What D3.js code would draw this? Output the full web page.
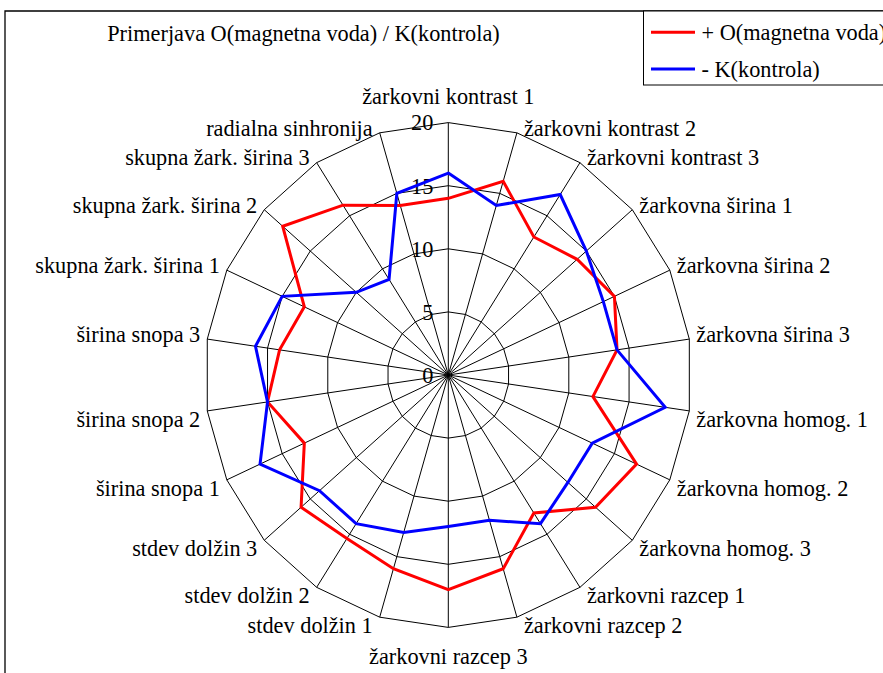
<!DOCTYPE html>
<html>
<head>
<meta charset="utf-8">
<script src="https://cdn.jsdelivr.net/npm/d3@7"></script>
<style>
html,body{margin:0;padding:0;background:#fff;}
svg{display:block;}
</style>
</head>
<body>
<svg id="chart" width="883" height="673"></svg>
<script>
const categories = [
  "žarkovni kontrast 1","žarkovni kontrast 2","žarkovni kontrast 3",
  "žarkovna širina 1","žarkovna širina 2","žarkovna širina 3",
  "žarkovna homog. 1","žarkovna homog. 2","žarkovna homog. 3",
  "žarkovni razcep 1","žarkovni razcep 2","žarkovni razcep 3",
  "stdev dolžin 1","stdev dolžin 2","stdev dolžin 3",
  "širina snopa 1","širina snopa 2","širina snopa 3",
  "skupna žark. širina 1","skupna žark. širina 2","skupna žark. širina 3",
  "radialna sinhronija"
];
const seriesO = [14,16,13,14,15,14,12,17,16,13,16,17,16,15.4,16,13,15,14,13,18,16,14];
const seriesK = [16,14,17,15,14,14,18,13,13,14,12,12,13,14,14,17,15,16,15,10,9,15];
const seriesNames = ["+ O(magnetna voda)","- K(kontrola)"];
const seriesColors = ["#ff0000","#0000ff"];
const tickValues = [0,5,10,15,20];
const titleText = "Primerjava O(magnetna voda) / K(kontrola)";

const FONT = "Liberation Serif";
const svg = d3.select("#chart");
const W = 883, H = 673;
const cx = 448.3, cy = 375;
const n = categories.length;
const angle = d3.scaleLinear().domain([0, n]).range([0, 2*Math.PI]);
const rX = d3.scaleLinear().domain([0,20]).range([0,243.5]);
const rY = d3.scaleLinear().domain([0,20]).range([0,252.4]);
const pt = (i, v) => [cx + rX(v)*Math.sin(angle(i)), cy - rY(v)*Math.cos(angle(i))];
const FS = 22.3;
const txt = (sel) => sel.attr("font-family", FONT).attr("font-size", FS).attr("fill", "#000");

// frame
svg.append("path").attr("d", `M5,${H} V11 H${W}`).attr("fill","none").attr("stroke","#000").attr("stroke-width",1.3);

// title
svg.append("text").call(txt).attr("x",303.5).attr("y",33).attr("dy","0.35em")
  .attr("text-anchor","middle").text(titleText);

// grid rings
const ringLine = d3.line().curve(d3.curveLinearClosed);
tickValues.filter(t => t>0).forEach(t => {
  svg.append("path").attr("d", ringLine(d3.range(n).map(i => pt(i,t))))
    .attr("fill","none").attr("stroke","#000").attr("stroke-width",1);
});
// spokes
svg.append("g").selectAll("line").data(d3.range(n)).join("line")
  .attr("x1",cx).attr("y1",cy)
  .attr("x2",i=>pt(i,20)[0]).attr("y2",i=>pt(i,20)[1])
  .attr("stroke","#000").attr("stroke-width",1);

// tick labels
svg.append("g").selectAll("text").data(tickValues).join("text").call(txt)
  .attr("x", cx-15).attr("y", t => cy - rY(t)).attr("dy","0.35em")
  .attr("text-anchor","end").text(t=>t);

// series
[seriesO, seriesK].forEach((s, k) => {
  svg.append("path").attr("d", ringLine(s.map((v,i)=>pt(i,v))))
    .attr("fill","none").attr("stroke",seriesColors[k]).attr("stroke-width",3)
    .attr("stroke-linejoin","miter");
});

// category labels
svg.append("g").selectAll("text").data(categories).join("text").call(txt)
  .each(function(c, i){
    const a = angle(i), s = Math.sin(a), co = Math.cos(a);
    const [vx, vy] = pt(i, 20);
    const el = d3.select(this).attr("dy","0.35em").text(c);
    if (Math.abs(s) < 0.01) {
      el.attr("text-anchor","middle").attr("x", vx).attr("y", co > 0 ? vy - 26 : vy + 29);
    } else {
      el.attr("text-anchor", s > 0 ? "start" : "end")
        .attr("x", vx + (s > 0 ? 7 : -7))
        .attr("y", co > 0 ? vy - 5 : vy + 8);
    }
  });

// legend
const lg = svg.append("g");
lg.append("rect").attr("x",643.5).attr("y",11).attr("width",260).attr("height",74)
  .attr("fill","#fff").attr("stroke","#000").attr("stroke-width",1);
seriesNames.forEach((name, k) => {
  const y = k === 0 ? 32.3 : 69;
  lg.append("line").attr("x1",651).attr("x2",695).attr("y1",y).attr("y2",y)
    .attr("stroke",seriesColors[k]).attr("stroke-width",3);
  lg.append("text").call(txt).attr("x",701.5).attr("y",y).attr("dy","0.35em").text(name);
});
</script>
</body>
</html>
